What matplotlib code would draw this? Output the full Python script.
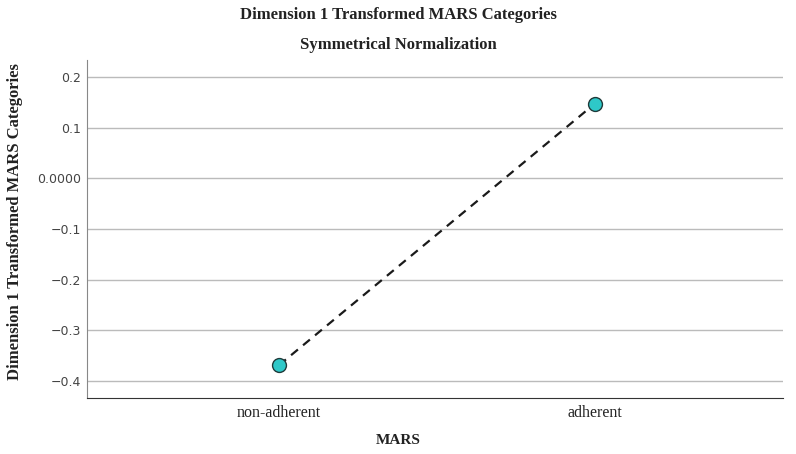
import matplotlib.pyplot as plt
import numpy as np

categories = ['non-adherent', 'adherent']
values = [-0.369, 0.148]
yticks = [0.2, 0.1, 0.0, -0.1, -0.2, -0.3, -0.4]
ytick_labels = ['0.2', '0.1', '0.0000', '\u22120.1', '\u22120.2', '\u22120.3', '\u22120.4']

fig = plt.figure(figsize=(7.96, 4.54), dpi=100)
ax = fig.add_axes([87/796, 1-398/454, (783-87)/796, (398-60)/454])

x = np.arange(len(categories))
ax.plot(x, values, ls=(0, (4, 3)), c='#1a1a1a', lw=1.6, zorder=3)
ax.plot(x, values, 'o', ms=10, mfc='#2ec8c8', mec='#1f3a3a', mew=1, zorder=4)

ax.set_xlim(-0.608, 1.595)
ax.set_ylim(-0.434, 0.234)
ax.set_yticks(yticks)
ax.set_yticklabels(ytick_labels, fontsize=9, color='#444444', family='DejaVu Sans')
ax.set_xticks(x)
ax.set_xticklabels(categories, fontsize=11.5, family='Liberation Serif', color='#222222')
ax.tick_params(length=0)
ax.tick_params(axis='y', pad=4)
ax.tick_params(axis='x', pad=5)

ax.yaxis.grid(True, color='#bbbbbb', lw=1)
ax.set_axisbelow(True)
for s in ['top', 'right']:
    ax.spines[s].set_visible(False)
ax.spines['left'].set_color('#888888')
ax.spines['bottom'].set_color('#333333')

fig.text(0.5, 1-15/454, 'Dimension 1 Transformed MARS Categories', ha='center', va='center',
         fontsize=12, fontweight='bold', family='Liberation Serif', color='#222222')
fig.text(0.5, 1-45/454, 'Symmetrical Normalization', ha='center', va='center',
         fontsize=12, fontweight='bold', family='Liberation Serif', color='#222222')
fig.text(0.5, 1-440/454, 'MARS', ha='center', va='center',
         fontsize=11, fontweight='bold', family='Liberation Serif', color='#222222')
fig.text(15/796, 1-222/454, 'Dimension 1 Transformed MARS Categories', ha='center', va='center',
         rotation=90, fontsize=12, fontweight='bold', family='Liberation Serif', color='#222222')

plt.savefig('out.png', facecolor='w')
